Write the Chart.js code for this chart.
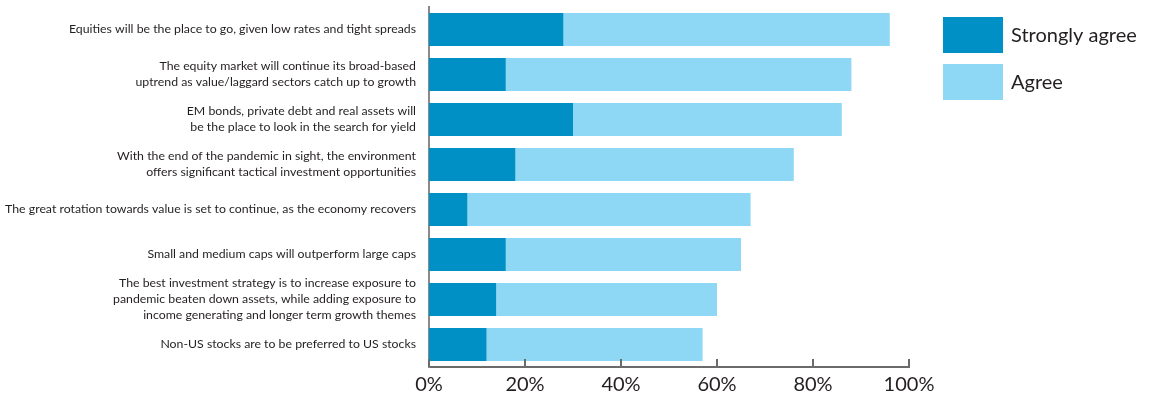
<!DOCTYPE html>
<html>
<head>
<meta charset="utf-8">
<script src="https://cdn.jsdelivr.net/npm/chart.js@4/dist/chart.umd.min.js"></script>
<style>
  html, body { margin: 0; padding: 0; background: #fff; }
  #wrap { width: 1149px; height: 396px; position: relative; }
</style>
</head>
<body>
<div id="wrap"><canvas id="surveyChart"></canvas></div>
<script>
// Survey statements (multi-line where the label wraps)
const statements = [
  ["Equities will be the place to go, given low rates and tight spreads"],
  ["The equity market will continue its broad-based", "uptrend as value/laggard sectors catch up to growth"],
  ["EM bonds, private debt and real assets will", "be the place to look in the search for yield"],
  ["With the end of the pandemic in sight, the environment", "offers significant tactical investment opportunities"],
  ["The great rotation towards value is set to continue, as the economy recovers"],
  ["Small and medium caps will outperform large caps"],
  ["The best investment strategy is to increase exposure to", "pandemic beaten down assets, while adding exposure to", "income generating and longer term growth themes"],
  ["Non-US stocks are to be preferred to US stocks"]
];
const stronglyAgree = [28, 16, 30, 18, 8, 16, 14, 12];
const agree = [68, 72, 56, 58, 59, 49, 46, 45];
const xTicks = [0, 20, 40, 60, 80, 100];

const DARK = "#0090c5";
const LIGHT = "#8ed8f5";
const TEXT = "#231f20";
const FONT = "Lato, 'Open Sans', sans-serif";

// ticks on the x axis point up into the plot
const innerTicks = {
  id: "innerTicks",
  afterDraw(chart) {
    const { ctx, chartArea, scales } = chart;
    ctx.save();
    ctx.strokeStyle = "#6b6b6b";
    ctx.lineWidth = 2;
    xTicks.forEach((v) => {
      const x = scales.x.getPixelForValue(v);
      ctx.beginPath();
      ctx.moveTo(x, chartArea.bottom);
      ctx.lineTo(x, chartArea.bottom - 8);
      ctx.stroke();
    });
    ctx.restore();
  }
};

// legend boxes to the right of the plot
const sideLegend = {
  id: "sideLegend",
  afterDraw(chart) {
    const { ctx, chartArea } = chart;
    const x0 = chartArea.right + 34;
    ctx.save();
    ctx.font = "20px " + FONT;
    ctx.textBaseline = "middle";
    chart.data.datasets.forEach((ds, i) => {
      const y = 17 + i * 47;
      ctx.fillStyle = ds.backgroundColor;
      ctx.fillRect(x0, y, 60, 36);
      ctx.fillStyle = TEXT;
      ctx.fillText(ds.label, x0 + 68, y + 19);
    });
    ctx.restore();
  }
};

new Chart(document.getElementById("surveyChart"), {
  type: "bar",
  data: {
    labels: statements,
    datasets: [
      { label: "Strongly agree", data: stronglyAgree, backgroundColor: DARK },
      { label: "Agree", data: agree, backgroundColor: LIGHT }
    ]
  },
  options: {
    indexAxis: "y",
    responsive: true,
    maintainAspectRatio: false,
    animation: false,
    layout: { padding: { top: 7, right: 240, bottom: 0, left: 0 } },
    datasets: { bar: { barPercentage: 0.733, categoryPercentage: 1 } },
    plugins: { legend: { display: false }, tooltip: { enabled: false } },
    scales: {
      x: {
        stacked: true,
        min: 0,
        max: 100,
        afterBuildTicks: (scale) => {
          scale.ticks = xTicks.map((v) => ({ value: v }));
        },
        afterFit: (scale) => {
          scale.height = 29;
          scale.paddingLeft = 0;
          scale.paddingRight = 0;
        },
        grid: { display: false, drawTicks: false },
        border: { display: true, color: "#6b6b6b", width: 2 },
        ticks: {
          padding: 6,
          color: TEXT,
          font: { family: FONT, size: 20 },
          callback: (v) => v + "%"
        }
      },
      y: {
        stacked: true,
        afterFit: (scale) => {
          scale.width = 429;
          scale.paddingTop = 0;
          scale.paddingBottom = 0;
        },
        grid: { display: false, drawTicks: false },
        border: { display: true, color: "#8a8a8a", width: 2 },
        ticks: {
          autoSkip: false,
          padding: 13,
          color: TEXT,
          font: { family: FONT, size: 12.3, lineHeight: "16px" }
        }
      }
    }
  },
  plugins: [innerTicks, sideLegend]
});
</script>
</body>
</html>
